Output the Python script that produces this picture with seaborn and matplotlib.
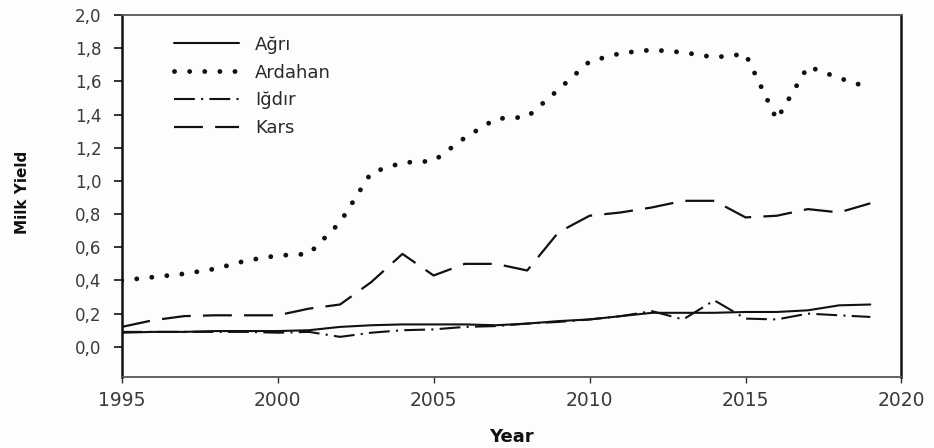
import numpy as np
import pandas as pd
import matplotlib
matplotlib.use("Agg")
import matplotlib.pyplot as plt
import seaborn as sns

# values
years = list(range(1995, 2020))
agri = [0.085, 0.09, 0.09, 0.095, 0.095, 0.095, 0.10, 0.12, 0.13, 0.135, 0.135, 0.135, 0.13,
        0.14, 0.155, 0.165, 0.185, 0.205, 0.205, 0.205, 0.21, 0.21, 0.22, 0.25, 0.255]
ardahan = [0.40, 0.42, 0.44, 0.47, 0.52, 0.55, 0.56, 0.75, 1.05, 1.11, 1.12, 1.26, 1.375,
           1.385, 1.55, 1.72, 1.77, 1.79, 1.775, 1.745, 1.765, 1.37, 1.69, 1.62, 1.56]
igdir = [0.09, 0.09, 0.09, 0.09, 0.09, 0.085, 0.09, 0.06, 0.085, 0.10, 0.105, 0.12, 0.125,
         0.14, 0.15, 0.165, 0.185, 0.215, 0.165, 0.28, 0.17, 0.165, 0.20, 0.19, 0.18]
kars = [0.12, 0.16, 0.185, 0.19, 0.19, 0.19, 0.23, 0.255, 0.39, 0.56, 0.43, 0.50, 0.50,
        0.46, 0.69, 0.79, 0.81, 0.84, 0.88, 0.88, 0.78, 0.79, 0.83, 0.81, 0.865]
region_names = ["Ağrı", "Ardahan", "Iğdır", "Kars"]
y_ticks = [0.0, 0.2, 0.4, 0.6, 0.8, 1.0, 1.2, 1.4, 1.6, 1.8, 2.0]
x_ticks = [1995, 2000, 2005, 2010, 2015, 2020]

sns.set_style("ticks")
plt.rcParams["font.family"] = ["DejaVu Sans"]

fig = plt.figure(figsize=(9.34, 4.48), dpi=100, facecolor="#fdfdfb")
ax = fig.add_axes([0.1303, 0.1592, 0.8349, 0.8073], facecolor="#fdfdfb")

ink = "#111111"
styles = [
    dict(linestyle="-", linewidth=1.5),
    dict(linestyle=(0, (0.01, 3.1)), linewidth=3.5, dash_capstyle="round"),
    dict(linestyle=(0, (10, 3, 1, 3)), linewidth=1.5),
    dict(linestyle=(0, (13, 5.5)), linewidth=1.6),
]
for name, vals, st in zip(region_names, [agri, ardahan, igdir, kars], styles):
    sns.lineplot(x=years, y=vals, ax=ax, color=ink, label=name, **st)

ax.set_xlim(1995, 2020)
ax.set_ylim(-0.18, 2.0)
ax.set_xticks(x_ticks)
ax.set_xticklabels([str(t) for t in x_ticks])
ax.set_yticks(y_ticks)
ax.set_yticklabels([f"{v:.1f}".replace(".", ",") for v in y_ticks])

ax.tick_params(axis="y", direction="out", length=5.5, width=1.2, pad=9,
               labelsize=12, labelcolor="#3a3a3a", color=ink)
ax.tick_params(axis="x", direction="out", length=4, width=1.0, pad=6,
               labelsize=13.5, labelcolor="#3a3a3a", color="#333333")

for side in ["left", "right"]:
    ax.spines[side].set_color(ink)
    ax.spines[side].set_linewidth(1.8)
for side in ["top", "bottom"]:
    ax.spines[side].set_color("#555555")
    ax.spines[side].set_linewidth(1.3)

ax.set_ylabel("Milk Yield", fontsize=11, fontweight="bold", color=ink)
ax.set_xlabel("Year", fontsize=13, fontweight="bold", color=ink)
ax.yaxis.set_label_coords(-0.118, 0.51)
ax.xaxis.set_label_coords(0.5, -0.143)

ax.legend(loc="upper left", bbox_to_anchor=(0.055, 0.968), frameon=False,
          fontsize=13, handlelength=3.6, handletextpad=0.9, labelspacing=0.55,
          borderpad=0, labelcolor="#2a2a2a")

plt.savefig("out.png", dpi=100, facecolor=fig.get_facecolor())
